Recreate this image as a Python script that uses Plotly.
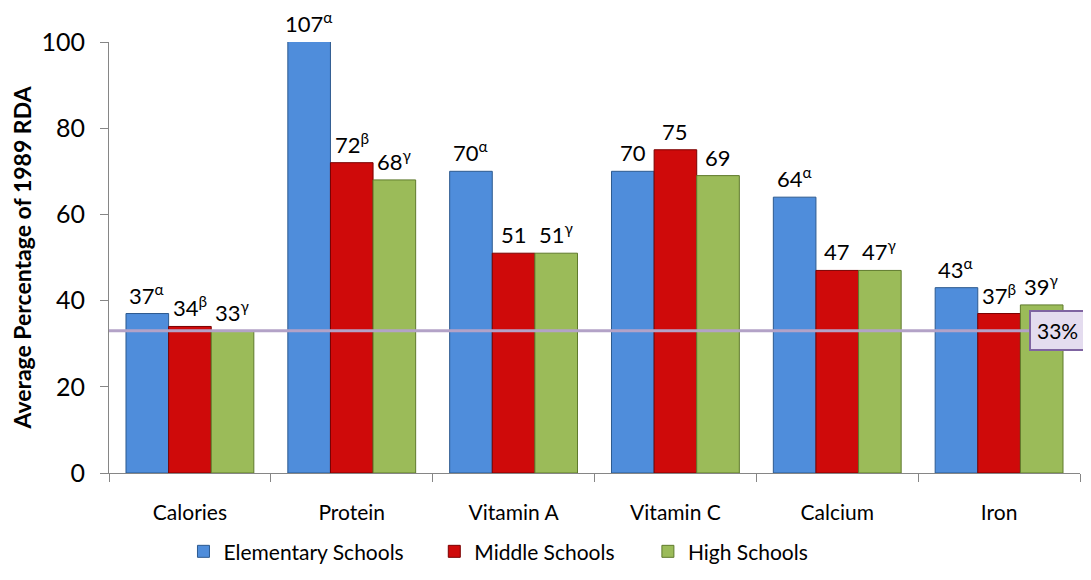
import plotly.graph_objects as go

categories = ["Calories", "Protein", "Vitamin A", "Vitamin C", "Calcium", "Iron"]
series_names = ["Elementary Schools", "Middle Schools", "High Schools"]
elementary = [37, 107, 70, 70, 64, 43]
middle = [34, 72, 51, 75, 47, 37]
high = [33, 68, 51, 69, 47, 39]
elem_marks = ["α", "α", "α", "", "α", "α"]
middle_marks = ["β", "β", "", "", "", "β"]
high_marks = ["γ", "γ", "γ", "", "γ", "γ"]
reference_value = 33
reference_label = "33%"

colors = ["#4f8ddb", "#cf0a0a", "#9bbb59"]
edge = ["#2d5a8f", "#7a0000", "#5f7a2c"]
FONT = "Lato, Carlito, Calibri, sans-serif"

values = [elementary, middle, high]
marks = [elem_marks, middle_marks, high_marks]

fig = go.Figure()
legends = ["legend", "legend2", "legend3"]
for j in range(3):
    fig.add_trace(go.Bar(
        x=categories, y=values[j], name=series_names[j],
        marker=dict(color=colors[j], line=dict(color=edge[j], width=1)),
        legend=legends[j],
    ))

bargap = 0.21
w = (1 - bargap) / 3
annotations = []
for j in range(3):
    for i, cat in enumerate(categories):
        v = values[j][i]
        m = marks[j][i]
        txt = f"{v}<sup>{m}</sup>" if m else f"{v}"
        annotations.append(dict(
            x=i + (j - 1) * w, y=min(v, 100), xref="x", yref="y",
            text=txt, showarrow=False, yanchor="bottom", yshift=3,
            font=dict(family=FONT, size=22, color="#000000"),
        ))

annotations.append(dict(
    x=0.977, y=reference_value, xref="paper", yref="y", text=reference_label,
    xanchor="center", showarrow=False, bgcolor="#e4dcef", bordercolor="#7f64a1",
    borderwidth=2, borderpad=6, font=dict(family=FONT, size=21, color="#000000"),
))

fig.add_shape(type="line", xref="paper", yref="y", x0=0, x1=0.96,
              y0=reference_value, y1=reference_value,
              line=dict(color="#b3a2c7", width=3), layer="above")

leg_font = dict(family=FONT, size=21)
fig.update_layout(
    width=1083, height=572,
    margin=dict(l=101, r=11, t=34, b=107, autoexpand=False),
    paper_bgcolor="white", plot_bgcolor="white",
    barmode="group", bargap=bargap, bargroupgap=0,
    font=dict(family=FONT, size=21, color="#000000"),
    annotations=annotations,
    showlegend=True,
    legend=dict(orientation="h", x=0.0767, y=-0.135, xanchor="left", yanchor="top",
                font=leg_font, bgcolor="rgba(0,0,0,0)"),
    legend2=dict(orientation="h", x=0.335, y=-0.135, xanchor="left", yanchor="top",
                 font=leg_font, bgcolor="rgba(0,0,0,0)"),
    legend3=dict(orientation="h", x=0.555, y=-0.135, xanchor="left", yanchor="top",
                 font=leg_font, bgcolor="rgba(0,0,0,0)"),
    xaxis=dict(showline=True, linecolor="#868686", linewidth=1,
               ticks="outside", ticklen=8, tickcolor="#868686", tickson="boundaries",
               showgrid=False, tickfont=dict(family=FONT, size=21),
               ticklabelstandoff=21),
    yaxis=dict(range=[0, 100], dtick=20, showline=True, linecolor="#868686", linewidth=1,
               ticks="outside", ticklen=8, tickcolor="#868686", showgrid=False,
               zeroline=False, tickfont=dict(family=FONT, size=25),
               ticklabelstandoff=10,
               title=dict(text="<b>Average Percentage of 1989 RDA</b>",
                          font=dict(family=FONT, size=23), standoff=5)),
)

fig.write_html("out.html")
